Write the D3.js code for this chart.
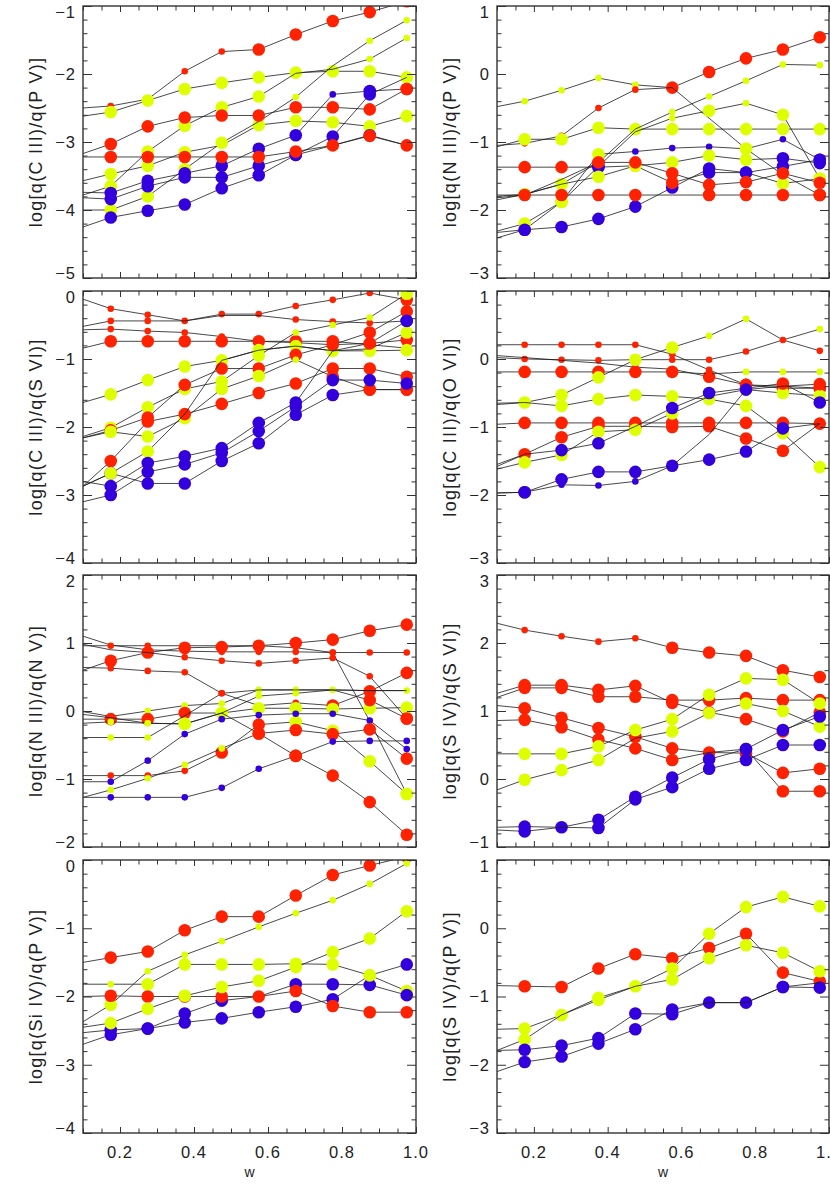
<!DOCTYPE html>
<html><head><meta charset="utf-8">
<script src="https://cdn.jsdelivr.net/npm/d3@7"></script>
<style>body{margin:0;background:#fff}svg{display:block}</style>
</head><body>
<svg id="c" width="830" height="1186"></svg>
<script>
// ---------- data ----------
const wPoints = [0.175, 0.275, 0.375, 0.475, 0.575, 0.675, 0.775, 0.875, 0.975];
const wEdge = 0.1;                 // lines start at the left frame
const xTickLabels = [0.2, 0.4, 0.6, 0.8, 1.0];
// marker codes: R/r red large/small, Y/y yellow, B/b blue, '-' none

const cpvLines = [
  [-2.50,-2.47,-2.37,-1.96,-1.67,-1.64,-1.42,-1.22,-1.09,-0.93],
  [-2.62,-2.56,-2.39,-2.22,-2.13,-2.05,-1.98,-1.96,-1.96,-2.05],
  [-3.57,-3.47,-3.35,-3.15,-3.05,-2.75,-2.69,-2.71,-2.77,-2.62],
  [-3.78,-3.65,-3.14,-2.76,-2.49,-2.33,-1.99,-1.93,-1.78,-1.47],
  [-4.00,-4.00,-3.80,-3.40,-3.01,-2.70,-2.34,-1.88,-1.51,-1.21],
  [-3.74,-3.75,-3.57,-3.46,-3.35,-3.10,-2.90,-2.30,-2.25,-2.22],
  [-3.82,-3.84,-3.65,-3.52,-3.52,-3.35,-3.19,-2.92,-2.30,-2.05],
  [-4.25,-4.11,-4.01,-3.92,-3.68,-3.49,-3.19,-3.05,-2.90,-3.05],
  [-3.17,-3.03,-2.77,-2.64,-2.61,-2.61,-2.49,-2.49,-2.52,-2.22],
  [-3.22,-3.22,-3.22,-3.22,-3.22,-3.22,-3.14,-3.05,-2.91,-3.05]
];
const cpvMarks = ["rrrrRRRRR","YYYYYYYYY","YYY-YYYYY","YYYYY--yy","YYYY-y-yy",
  "BBBBBBbBR","BBBBBBBB-","BBBBBB-B-","RRRRRRRRR","RRRRRRRRR"];

const npvLines = [
  [-0.48,-0.40,-0.24,-0.06,-0.16,-0.20,0.03,0.23,0.36,0.54],
  [-1.05,-1.02,-0.91,-0.50,-0.23,-0.20,-0.65,-1.10,-1.48,-1.78],
  [-1.07,-0.96,-0.96,-0.79,-0.81,-0.81,-0.81,-0.81,-0.81,-0.81],
  [-1.80,-1.77,-1.62,-1.30,-0.81,-0.56,-0.33,-0.10,0.14,0.13],
  [-2.41,-2.29,-1.88,-1.36,-0.85,-0.65,-0.54,-0.43,-0.60,-1.54],
  [-2.31,-2.20,-1.88,-1.18,-1.14,-1.09,-1.07,-1.10,-0.96,-1.26],
  [-1.37,-1.37,-1.37,-1.37,-1.35,-1.30,-1.20,-1.26,-1.24,-1.31],
  [-2.33,-2.29,-2.25,-2.13,-1.95,-1.67,-1.39,-1.45,-1.36,-1.26],
  [-1.85,-1.77,-1.62,-1.51,-1.35,-1.60,-1.45,-1.45,-1.61,-1.54],
  [-1.82,-1.78,-1.55,-1.30,-1.30,-1.46,-1.63,-1.59,-1.46,-1.60],
  [-1.78,-1.78,-1.78,-1.78,-1.78,-1.78,-1.78,-1.78,-1.78,-1.78]
];
const npvMarks = ["yyyyRRRRR","rrrr--Y-R","YYYYYYYYY","YYR-yyyyy","BYB-yYyYY",
  "YYYbbbYbB","RRBYYYYBB","BBBBBBBBB","Y-YYRBBYY","--RRRRRRR","RRRR-RRRR"];

const csviLines = [
  [-0.12,-0.26,-0.35,-0.44,-0.34,-0.34,-0.22,-0.13,-0.03,-0.13],
  [-0.52,-0.44,-0.44,-0.44,-0.36,-0.36,-0.42,-0.45,-0.47,-0.44],
  [-0.57,-0.56,-0.59,-0.61,-0.67,-0.74,-0.76,-0.79,-0.77,-0.72],
  [-0.84,-0.74,-0.74,-0.74,-0.74,-0.74,-0.74,-0.74,-0.79,-0.84],
  [-2.87,-2.68,-2.83,-2.83,-2.50,-2.24,-1.82,-1.53,-1.45,-1.45],
  [-1.64,-1.52,-1.31,-1.11,-1.02,-0.87,-0.81,-0.88,-0.88,-0.87],
  [-2.14,-2.01,-1.71,-1.44,-1.33,-0.95,-0.61,-0.50,-0.39,-0.04],
  [-2.16,-2.05,-1.86,-1.38,-1.14,-1.14,-0.94,-0.79,-0.61,-0.30],
  [-2.16,-2.07,-2.14,-1.87,-1.44,-1.25,-1.01,-1.26,-1.45,-1.45],
  [-2.87,-2.50,-1.92,-1.81,-1.66,-1.50,-1.36,-1.14,-1.14,-1.26],
  [-2.87,-2.68,-2.36,-1.81,-1.02,-0.87,-0.81,-0.88,-0.85,-0.61],
  [-2.80,-2.87,-2.53,-2.43,-2.31,-1.94,-1.64,-0.88,-0.77,-0.44],
  [-3.10,-3.00,-2.66,-2.55,-2.38,-2.06,-1.70,-1.31,-1.31,-1.36]
];
const csviMarks = ["rrrrrrrrR","rr---rrrB","rrrr---RR","RRRRRRR--","BBBBBBBRR",
  "YYYYYYYYY","YYYYYyyyY","RRRRRRRRR","YYYYYyRRR","RRRRRRRRR","YY------Y",
  "BBBBBB-RB","BBBBBBBBB"];

const coviLines = [
  [0.21,0.21,0.21,0.21,0.21,0.07,-0.16,-0.38,-0.43,-0.43],
  [0.02,0.00,-0.01,-0.02,-0.01,-0.01,-0.01,0.11,0.28,0.44],
  [0.05,0.02,-0.02,-0.06,-0.12,-0.15,-0.26,-0.38,-0.40,-0.43],
  [-0.19,-0.19,-0.19,-0.19,-0.19,-0.19,-0.22,-0.19,-0.19,-0.19],
  [-0.67,-0.64,-0.53,-0.27,-0.01,0.17,0.34,0.59,0.28,0.12],
  [-0.65,-0.64,-0.69,-0.59,-0.53,-0.55,-0.59,-0.69,-1.09,-1.59],
  [-0.96,-0.94,-0.94,-0.94,-0.94,-0.94,-0.94,-0.94,-0.94,-0.95],
  [-1.55,-1.40,-1.15,-0.99,-0.99,-1.00,-0.99,-1.17,-1.35,-0.95],
  [-1.62,-1.52,-1.41,-1.07,-1.04,-0.80,-0.55,-0.45,-0.50,-0.54],
  [-1.58,-1.40,-1.34,-1.24,-0.99,-0.72,-0.50,-0.43,-0.36,-0.64],
  [-1.97,-1.96,-1.77,-1.66,-1.66,-1.57,-1.48,-1.36,-1.02,-0.95],
  [-1.97,-1.96,-1.85,-1.86,-1.80,-1.57,-1.11,-0.45,-0.40,-0.37]
];
const coviMarks = ["rrrrrrRRR","rrrrrrr-y","---r-RR-R","RRRRRryyy","YYYYYyyrr",
  "-YYYYYYYY","RRRRRRRRR","RRRRRRRR-","YYYYY-YYY","-BB-BBRRB","BBBBBBBB-","Bbbbb-B-R"];

const nnvLines = [
  [1.10,0.97,0.90,0.88,0.87,0.87,0.87,0.86,0.86,0.86],
  [0.96,0.96,0.96,0.96,0.96,0.96,0.93,0.86,-0.15,-1.22],
  [0.60,0.74,0.86,0.93,0.94,0.96,1.00,1.05,1.18,1.27],
  [0.64,0.63,0.59,0.57,0.26,0.08,0.12,0.08,0.29,0.56],
  [0.98,0.90,0.86,0.79,0.74,0.70,0.74,0.78,0.51,-0.11],
  [-0.01,-0.08,0.00,0.08,0.11,0.31,0.31,0.31,0.30,0.30],
  [-0.12,-0.12,-0.12,-0.03,-0.03,0.04,0.04,0.03,0.04,0.05],
  [-0.18,-0.16,-0.18,-0.19,-0.03,0.22,0.26,0.31,0.16,-0.11],
  [-0.39,-0.39,-0.39,-0.07,0.26,0.31,0.31,0.31,0.30,0.30],
  [-0.95,-0.95,-0.95,-0.88,-0.61,-0.20,-0.16,-0.29,-0.74,-1.22],
  [-1.04,-1.04,-0.73,-0.34,-0.12,-0.06,-0.04,-0.04,-0.14,-0.56],
  [-1.27,-1.16,-0.99,-0.79,-0.55,-0.33,-0.28,-0.34,-0.27,-0.70],
  [-1.27,-1.27,-1.27,-1.27,-1.13,-0.85,-0.66,-0.45,-0.44,-0.44],
  [-0.05,-0.10,-0.18,-0.19,-0.03,-0.33,-0.66,-0.95,-1.34,-1.82]
];
const nnvMarks = ["-rrrrrrrr","rr----r-Y","RRRRRRRRR","rrrr-rRRR","--rrrrrrR",
  "yyyyyyy-y","RRRYYYYYY","yyY-yy-RR","yy-r-----","rrrRRYYYY","bbbbbbbbb",
  "yyyyRRRRR","bbbbbRbbb","-yY-RRRRR"];

const sivsviLines = [
  [2.29,2.19,2.10,2.02,2.07,1.93,1.86,1.81,1.60,1.50],
  [1.26,1.38,1.38,1.31,1.37,1.12,0.98,0.88,0.70,0.98],
  [1.20,1.34,1.34,1.21,1.21,1.16,1.16,1.19,1.16,1.16],
  [1.08,1.04,0.90,0.75,0.62,0.45,0.39,0.38,0.09,0.15],
  [0.86,0.87,0.76,0.58,0.45,0.28,0.39,0.44,-0.18,-0.18],
  [0.37,0.37,0.37,0.48,0.72,0.88,1.24,1.48,1.46,1.11],
  [-0.16,-0.01,0.13,0.28,0.60,0.70,0.97,1.11,1.00,0.77],
  [-0.71,-0.70,-0.71,-0.60,-0.26,0.02,0.29,0.44,0.72,0.92],
  [-0.75,-0.77,-0.71,-0.72,-0.30,-0.12,0.15,0.28,0.50,0.50]
];
const sivsviMarks = ["rrrrRRRRR","RRRRRRRRR","RRRRRRRRR","RRRRRRRRR","RRRRR-BRR",
  "YYYYYYYYY","YYY-YYYYY","BBBBBBBBB","B-BBBBBBB"];

const sipvLines = [
  [-1.50,-1.43,-1.34,-1.03,-0.83,-0.83,-0.52,-0.22,-0.08,0.05],
  [-1.82,-1.82,-1.82,-1.53,-1.53,-1.53,-1.52,-1.53,-1.69,-1.92],
  [-2.37,-2.12,-1.63,-1.39,-1.19,-0.98,-0.78,-0.59,-0.35,-0.05],
  [-2.53,-2.49,-2.47,-2.25,-2.06,-2.00,-1.82,-1.82,-1.83,-1.98],
  [-2.70,-2.56,-2.47,-2.38,-2.32,-2.23,-2.15,-2.04,-1.69,-1.53],
  [-2.00,-1.99,-2.00,-2.00,-2.00,-2.00,-1.92,-2.14,-2.23,-2.23],
  [-2.45,-2.39,-2.18,-1.99,-1.86,-1.77,-1.57,-1.35,-1.15,-0.75]
];
const sipvMarks = ["RRRRRRRRR","yYYYYYYYY","Yyyyyyyyy","BBBB-BBBB","BBBBBBBYB",
  "RRRRRRRRR","YYYYYYYYY"];

const sivpvLines = [
  [-0.84,-0.85,-0.86,-0.59,-0.38,-0.44,-0.29,-0.08,-0.65,-0.78],
  [-1.48,-1.47,-1.27,-1.02,-0.85,-0.59,-0.08,0.31,0.46,0.32],
  [-1.79,-1.63,-1.27,-1.05,-0.85,-0.75,-0.44,-0.25,-0.36,-0.63],
  [-1.79,-1.78,-1.72,-1.61,-1.25,-1.26,-1.09,-1.09,-0.86,-0.87],
  [-2.10,-1.96,-1.88,-1.69,-1.48,-1.19,-1.09,-1.09,-0.86,-0.80]
];
const sivpvMarks = ["RRRRRRRRR","YYYYYYYYY","Y-Y-YYYYY","BBBBBBBBB","BBBBB--B-"];

const panelLabels = [
  "log[q(C III)/q(P V)]", "log[q(N III)/q(P V)]",
  "log[q(C III)/q(S VI)]", "log[q(C III)/q(O VI)]",
  "log[q(N III)/q(N V)]", "log[q(S IV)/q(S VI)]",
  "log[q(Si IV)/q(P V)]", "log[q(S IV)/q(P V)]"
];
const panelDomains = [[-5,-1],[-3,1],[-4,0],[-3,1],[-2,2],[-1,3],[-4,0],[-3,1]];
const panelLines = [cpvLines, npvLines, csviLines, coviLines, nnvLines, sivsviLines, sipvLines, sivpvLines];
const panelMarks = [cpvMarks, npvMarks, csviMarks, coviMarks, nnvMarks, sivsviMarks, sipvMarks, sivpvMarks];

// ---------- layout / style ----------
const cols = [{x0: 83, x1: 416}, {x0: 497, x1: 829}];
const rows = [{y0: 6, y1: 278}, {y0: 291, y1: 563}, {y0: 575, y1: 847}, {y0: 860, y1: 1133}];
const colorOf = {R: "#ff2200", Y: "#ddff00", B: "#3300dd"};
const FONT = "'Liberation Sans', Arial, sans-serif";

const svg = d3.select("#c");
const defs = svg.append("defs");

panelLines.forEach((lines, i) => {
  const c = cols[i % 2], r = rows[Math.floor(i / 2)];
  const dom = panelDomains[i];
  const x = d3.scaleLinear().domain([0.1, 1.0]).range([c.x0, c.x1]);
  const y = d3.scaleLinear().domain(dom).range([r.y1, r.y0]);
  const g = svg.append("g");

  defs.append("clipPath").attr("id", "clip" + i).append("rect")
    .attr("x", c.x0).attr("y", r.y0).attr("width", c.x1 - c.x0).attr("height", r.y1 - r.y0);
  const plot = g.append("g").attr("clip-path", `url(#clip${i})`);
  const line = d3.line().x(d => x(d[0])).y(d => y(d[1]));

  lines.forEach((vals, k) => {
    const pts = vals.map((v, j) => [j === 0 ? wEdge : wPoints[j - 1], v]);
    plot.append("path").attr("d", line(pts)).attr("fill", "none")
      .attr("stroke", "#1a1a1a").attr("stroke-width", 0.8);
    const codes = panelMarks[i][k];
    pts.slice(1).forEach((d, j) => {
      const ch = codes[j];
      if (!ch || ch === "-") return;
      plot.append("circle").attr("cx", x(d[0])).attr("cy", y(d[1]))
        .attr("r", ch === ch.toUpperCase() ? 6.3 : 3.3)
        .attr("fill", colorOf[ch.toUpperCase()]);
    });
  });

  // ticks via d3 axes
  const yMaj = d3.range(dom[0], dom[1] + 0.001, 1);
  const yMin = d3.range(dom[0], dom[1] + 0.001, 0.2).filter(v => Math.abs(v - Math.round(v)) > 1e-6);
  const xMaj = d3.range(0.2, 1.001, 0.2);
  const xMin = d3.range(0.1, 1.001, 0.05).filter(v => xMaj.every(m => Math.abs(m - v) > 1e-6));
  const axes = [
    [d3.axisLeft(y), c.x0, 0, yMaj, yMin, 9],
    [d3.axisRight(y), c.x1, 0, yMaj, yMin, 9],
    [d3.axisBottom(x), 0, r.y1, xMaj, xMin, 6],
    [d3.axisTop(x), 0, r.y0, xMaj, xMin, 6]
  ];
  axes.forEach(([ax, tx, ty, maj, mn, mlen]) => {
    [[maj, mlen], [mn, 4.5]].forEach(([vals, len]) => {
      const gg = g.append("g").attr("transform", `translate(${tx},${ty})`)
        .call(ax.tickValues(vals).tickSize(-len).tickFormat(""));
      gg.select(".domain").remove();
      gg.selectAll("line").attr("stroke", "#333").attr("stroke-width", 1);
    });
  });
  g.append("rect").attr("x", c.x0).attr("y", r.y0).attr("width", c.x1 - c.x0)
    .attr("height", r.y1 - r.y0).attr("fill", "none").attr("stroke", "#333").attr("stroke-width", 1.4);

  // y tick labels (clamped inside the frame like the original)
  const fmt = d3.format("d");
  yMaj.forEach(v => {
    const ty = Math.max(r.y0 + 6, Math.min(r.y1 - 5, y(v)));
    g.append("text").attr("x", c.x0 - 7).attr("y", ty).attr("dy", "0.35em")
      .attr("text-anchor", "end").attr("font-family", FONT).attr("font-size", 16.5)
      .attr("letter-spacing", 1).attr("fill", "#222").text(fmt(v));
  });

  // y title
  const cx = i % 2 === 0 ? 36 : 450;
  g.append("text").attr("transform", `translate(${cx},${(r.y0 + r.y1) / 2}) rotate(-90)`)
    .attr("text-anchor", "middle").attr("dy", "0.35em").attr("font-family", FONT)
    .attr("font-size", 18).attr("letter-spacing", 1.3).attr("fill", "#222").text(panelLabels[i]);

  // x tick labels on bottom row only
  if (Math.floor(i / 2) === 3) {
    xTickLabels.forEach(v => {
      g.append("text").attr("x", x(v)).attr("y", r.y1 + 25).attr("text-anchor", "middle")
        .attr("font-family", FONT).attr("font-size", 16.5).attr("letter-spacing", 1)
        .attr("fill", "#222").text(d3.format(".1f")(v));
    });
    g.append("text").attr("x", (c.x0 + c.x1) / 2).attr("y", r.y1 + 44)
      .attr("text-anchor", "middle").attr("font-family", FONT).attr("font-size", 14)
      .attr("fill", "#222").text("w");
  }
});
</script>
</body></html>
